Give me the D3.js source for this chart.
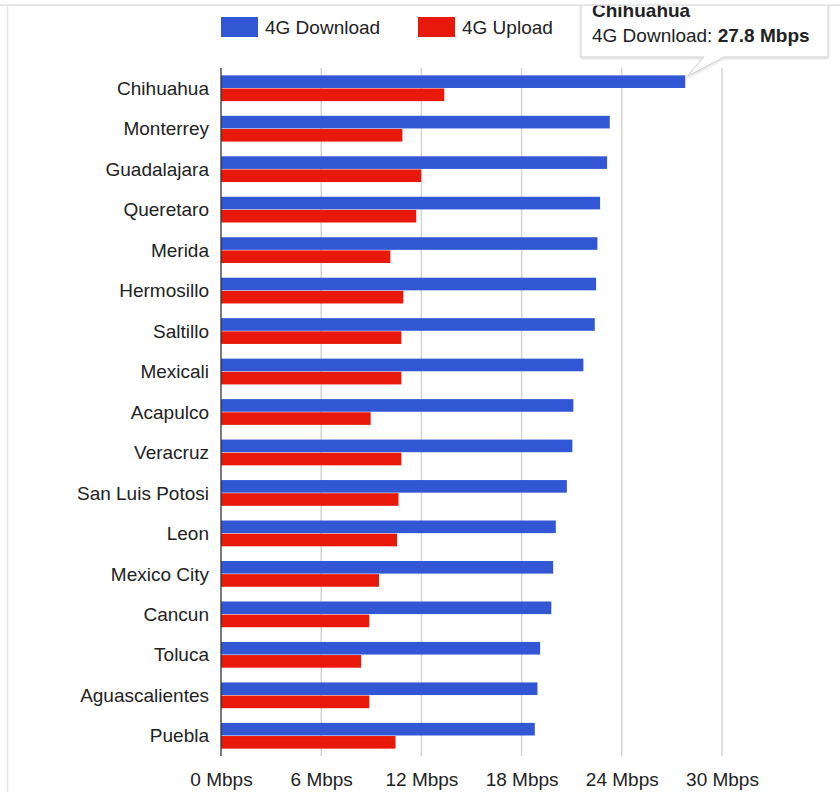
<!DOCTYPE html>
<html>
<head>
<meta charset="utf-8">
<script src="https://cdn.jsdelivr.net/npm/d3@7/dist/d3.min.js"></script>
<style>
  html, body { margin: 0; padding: 0; background: #fff; }
  svg { display: block; font-family: "Liberation Sans", Arial, Helvetica, sans-serif; }
</style>
</head>
<body>
<svg id="chart" width="840" height="806"></svg>
<script>
const cities = ["Chihuahua","Monterrey","Guadalajara","Queretaro","Merida","Hermosillo","Saltillo","Mexicali","Acapulco","Veracruz","San Luis Potosi","Leon","Mexico City","Cancun","Toluca","Aguascalientes","Puebla"];
const download = [27.8, 23.28, 23.12, 22.70, 22.54, 22.46, 22.38, 21.70, 21.10, 21.04, 20.71, 20.05, 19.89, 19.78, 19.11, 18.95, 18.79];
const upload   = [13.37, 10.86, 11.99, 11.69, 10.14, 10.92, 10.80, 10.80, 8.96, 10.80, 10.63, 10.54, 9.46, 8.88, 8.39, 8.88, 10.45];
const seriesNames = ["4G Download", "4G Upload"];
const seriesColors = ["#3157d5", "#e8190a"];
const xTicks = [0, 6, 12, 18, 24, 30];
const tooltipCity = "Chihuahua";
const tooltipValue = 27.8;

const svg = d3.select("#chart");

const x = d3.scaleLinear().domain([0, 30]).range([221, 722]);
const y = d3.scaleBand().domain(cities).range([68, 756]).padding(0);
const y1 = d3.scaleBand().domain(seriesNames).range([0, y.bandwidth()]).paddingInner(0.04).paddingOuter(0.56);

// frame
svg.append("line").attr("x1", 0).attr("x2", 840).attr("y1", 5).attr("y2", 5)
  .attr("stroke", "#e2e2e2").attr("stroke-width", 1.5);
svg.append("line").attr("x1", 7.5).attr("x2", 7.5).attr("y1", 5).attr("y2", 792)
  .attr("stroke", "#e6e6e6").attr("stroke-width", 1.5);

// gridlines
svg.append("g").selectAll("line").data(xTicks.filter(d => d > 0)).join("line")
  .attr("x1", d => x(d)).attr("x2", d => x(d))
  .attr("y1", 68).attr("y2", 756)
  .attr("stroke", "#d4d4d4").attr("stroke-width", 1.5);

// bars
const data = cities.map((c, i) => ({city: c, values: [download[i], upload[i]]}));
const groups = svg.append("g").selectAll("g").data(data).join("g")
  .attr("transform", d => `translate(0,${y(d.city)})`);
groups.selectAll("rect").data(d => d.values.map((v, j) => ({v, s: seriesNames[j], c: seriesColors[j]})))
  .join("rect")
  .attr("x", x(0))
  .attr("y", d => y1(d.s))
  .attr("width", d => x(d.v) - x(0))
  .attr("height", y1.bandwidth())
  .attr("fill", d => d.c);

// y axis line
svg.append("line").attr("x1", x(0)).attr("x2", x(0)).attr("y1", 68).attr("y2", 756)
  .attr("stroke", "#333").attr("stroke-width", 1.3);

// category labels
svg.append("g").selectAll("text").data(cities).join("text")
  .attr("x", 209)
  .attr("y", d => y(d) + y.bandwidth() / 2)
  .attr("dy", "0.35em")
  .attr("text-anchor", "end")
  .attr("font-size", 19)
  .attr("fill", "#222")
  .text(d => d);

// x axis labels
const xAxis = d3.axisBottom(x).tickValues(xTicks).tickFormat(d => d + " Mbps").tickSize(0).tickPadding(0);
const gx = svg.append("g").attr("transform", "translate(0,772)").call(xAxis);
gx.select(".domain").remove();
gx.selectAll("text").attr("font-size", 19).attr("fill", "#222")
  .attr("font-family", "'Liberation Sans', Arial, sans-serif").attr("dy", "0.71em");

// legend
const legendX = [221, 418];
const legend = svg.append("g");
seriesNames.forEach((s, i) => {
  legend.append("rect").attr("x", legendX[i]).attr("y", 17).attr("width", 37).attr("height", 20).attr("fill", seriesColors[i]);
  legend.append("text").attr("x", legendX[i] + 44).attr("y", 27).attr("dy", "0.35em")
    .attr("font-size", 19).attr("fill", "#222").text(s);
});

// tooltip
const tipX = x(tooltipValue), tipY = y(tooltipCity) + y1(seriesNames[0]) + 1;
const tip = svg.append("g");
tip.append("defs").append("filter").attr("id", "sh")
  .append("feDropShadow").attr("dx", 0).attr("dy", 1).attr("stdDeviation", 1.5).attr("flood-color", "#000").attr("flood-opacity", 0.18);
tip.append("path")
  .attr("d", `M581,-5 L828,-5 L828,57 L724,57 L${tipX + 2},${tipY} L704,57 L581,57 Z`)
  .attr("fill", "#fff").attr("stroke", "#cfcfcf").attr("stroke-width", 1).attr("filter", "url(#sh)");
tip.append("text").attr("x", 592).attr("y", 17).attr("font-size", 19).attr("font-weight", "bold").attr("fill", "#222").text(tooltipCity);
const t2 = tip.append("text").attr("x", 592).attr("y", 42).attr("font-size", 19).attr("fill", "#222");
t2.append("tspan").text(seriesNames[0] + ": ");
t2.append("tspan").attr("font-weight", "bold").text(tooltipValue + " Mbps");

// top cover (frame clips tooltip)
svg.append("rect").attr("x", 0).attr("y", 0).attr("width", 840).attr("height", 5).attr("fill", "#fff");
svg.append("line").attr("x1", 0).attr("x2", 840).attr("y1", 5).attr("y2", 5)
  .attr("stroke", "#e2e2e2").attr("stroke-width", 1.5);
</script>
</body>
</html>
